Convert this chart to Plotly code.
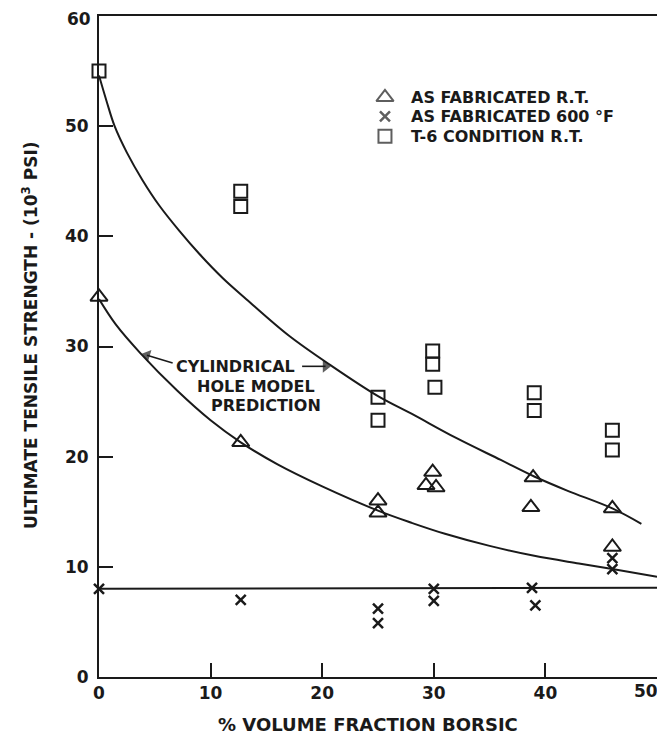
import plotly.graph_objects as go

# ---- data ----
tri_x = [0, 12.7, 25, 25, 29.9, 29.3, 30.2, 38.9, 38.7, 46, 46]
tri_y = [34.5, 21.3, 16.0, 14.9, 18.6, 17.4, 17.2, 18.1, 15.4, 15.3, 11.8]

x600_x = [0, 12.7, 25, 25, 30, 30, 38.8, 39.1, 46, 46]
x600_y = [8.0, 7.0, 6.2, 4.9, 8.0, 6.9, 8.1, 6.5, 10.8, 9.8]

sq_x = [0, 12.7, 12.7, 25, 25, 29.9, 29.9, 30.1, 39, 39, 46, 46]
sq_y = [55.0, 44.1, 42.7, 25.4, 23.3, 29.6, 28.4, 26.3, 25.8, 24.2, 22.4, 20.6]

# prediction curves
upper_x = [0, 0.7, 1.4, 2.5, 3.9, 5.4, 7.2, 9.0, 11.1, 13.2, 17, 20.9, 25, 28, 32, 36, 39, 42, 46, 48.6]
upper_y = [54.6, 52.2, 50.0, 47.6, 45.1, 42.8, 40.5, 38.4, 36.2, 34.3, 31.0, 28.2, 25.5, 23.9, 21.7, 19.7, 18.2, 16.9, 15.3, 13.9]

lower_x = [0, 1.5, 3.7, 7, 10, 12.7, 16, 20, 25, 28, 31, 35, 39, 43, 46, 50]
lower_y = [34.3, 32.0, 29.4, 26.0, 23.3, 21.3, 19.3, 17.3, 15.1, 14.0, 13.0, 11.9, 11.0, 10.3, 9.8, 9.1]

flat_x = [0, 50]
flat_y = [8.0, 8.1]

x_ticks = [0, 10, 20, 30, 40]
y_ticks = [0, 10, 20, 30, 40, 50]

series_names = ["AS FABRICATED R.T.", "AS FABRICATED 600 °F", "T-6 CONDITION R.T."]

INK = "#1a1a1a"
FONT = "DejaVu Sans"
SYM = ["triangle-up-open", "x-thin-open", "square-open"]
SIZES = [15, 10, 13]
WID = [2, 2.5, 2]

fig = go.Figure()

for cx, cy in [(upper_x, upper_y), (lower_x, lower_y)]:
    fig.add_trace(go.Scatter(x=cx, y=cy, mode="lines",
                             line=dict(color=INK, width=2, shape="spline", smoothing=1.0),
                             showlegend=False, hoverinfo="skip"))
fig.add_trace(go.Scatter(x=flat_x, y=flat_y, mode="lines", line=dict(color=INK, width=2),
                         showlegend=False, hoverinfo="skip"))

for (sx, sy), name, sym, sz, w in zip([(tri_x, tri_y), (x600_x, x600_y), (sq_x, sq_y)],
                                      series_names, SYM, SIZES, WID):
    fig.add_trace(go.Scatter(x=sx, y=sy, mode="markers", name=name, showlegend=False, cliponaxis=False,
                             marker=dict(symbol=sym, size=sz, color=INK, line=dict(width=w, color=INK))))

# arrows of the "cylindrical hole model prediction" label
for ax_, ay_, tx, ty in [(6.6, 28.5, 4.3, 29.2), (18.2, 28.2, 20.3, 28.2)]:
    fig.add_trace(go.Scatter(x=[ax_, tx], y=[ay_, ty], mode="lines+markers", showlegend=False,
                             hoverinfo="skip", line=dict(color=INK, width=1.6),
                             marker=dict(symbol="triangle-up", angleref="previous", size=[0, 11], color=INK,
                                         line=dict(width=0))))

# custom legend on an overlay axis with a 0..1 range
leg_x = 0.5125
leg_y = [0.877, 0.848, 0.818]
fig.add_trace(go.Scatter(x=[leg_x] * 3, y=leg_y, xaxis="x2", yaxis="y2", mode="markers",
                         showlegend=False, hoverinfo="skip", cliponaxis=False,
                         marker=dict(symbol=SYM, size=SIZES, color=INK, line=dict(width=WID, color=INK))))

tick_font = dict(family=FONT, size=17, color=INK, weight="bold")
axis_common = dict(showgrid=False, zeroline=False, showline=True, linecolor=INK, linewidth=2,
                   ticks="inside", ticklen=14, tickwidth=2, tickcolor=INK, mirror=True,
                   ticklabeloverflow="allow", automargin=False, tickfont=tick_font)

fig.update_xaxes(range=[0, 50], tickvals=x_ticks, ticktext=[str(v) for v in x_ticks],
                 ticklabelstandoff=0, **axis_common)
fig.update_yaxes(range=[0, 60], tickvals=y_ticks, ticktext=[str(v) for v in y_ticks],
                 ticklabelstandoff=5, **axis_common)

ann_font = dict(family=FONT, size=16, color=INK, weight="bold")
annotations = [
    dict(text="ULTIMATE TENSILE STRENGTH - (10<sup>3</sup> PSI)", xref="paper", yref="paper",
         x=-0.124, y=0.517, textangle=-90, showarrow=False,
         font=dict(family=FONT, size=17, color=INK, weight="bold"), xanchor="center", yanchor="middle"),
    dict(text="% VOLUME FRACTION BORSIC", xref="paper", yref="paper", x=0.482, y=-0.072,
         showarrow=False, font=dict(family=FONT, size=18, color=INK, weight="bold"),
         xanchor="center", yanchor="middle"),
    # end labels of the axes, nudged inside the page
    dict(text="50", xref="x", yref="paper", x=50, y=0, yanchor="top", xanchor="center", xshift=-11, yshift=-2,
         showarrow=False, font=tick_font),
    dict(text="60", xref="paper", yref="y", x=0, y=60, xanchor="right", yanchor="middle", xshift=-6, yshift=-3,
         showarrow=False, font=tick_font),
    dict(text="CYLINDRICAL", xref="x", yref="y", x=12.2, y=28.2, showarrow=False, font=ann_font),
    dict(text="HOLE MODEL", xref="x", yref="y", x=14.1, y=26.4, showarrow=False, font=ann_font),
    dict(text="PREDICTION", xref="x", yref="y", x=15.0, y=24.6, showarrow=False, font=ann_font),
]
for name, yy in zip(series_names, leg_y):
    annotations.append(dict(text=name, xref="paper", yref="paper", x=0.5556, y=yy, xanchor="left",
                            yanchor="middle", showarrow=False,
                            font=dict(family=FONT, size=16, color=INK, weight="bold")))

fig.update_layout(
    width=657, height=730,
    margin=dict(l=91, r=8, t=8, b=61, autoexpand=False),
    paper_bgcolor="white", plot_bgcolor="white",
    showlegend=False,
    xaxis2=dict(overlaying="x", anchor="y2", range=[0, 1], visible=False),
    yaxis2=dict(overlaying="y", anchor="x2", range=[0, 1], visible=False),
    annotations=annotations,
)

fig.write_html("out.html")
